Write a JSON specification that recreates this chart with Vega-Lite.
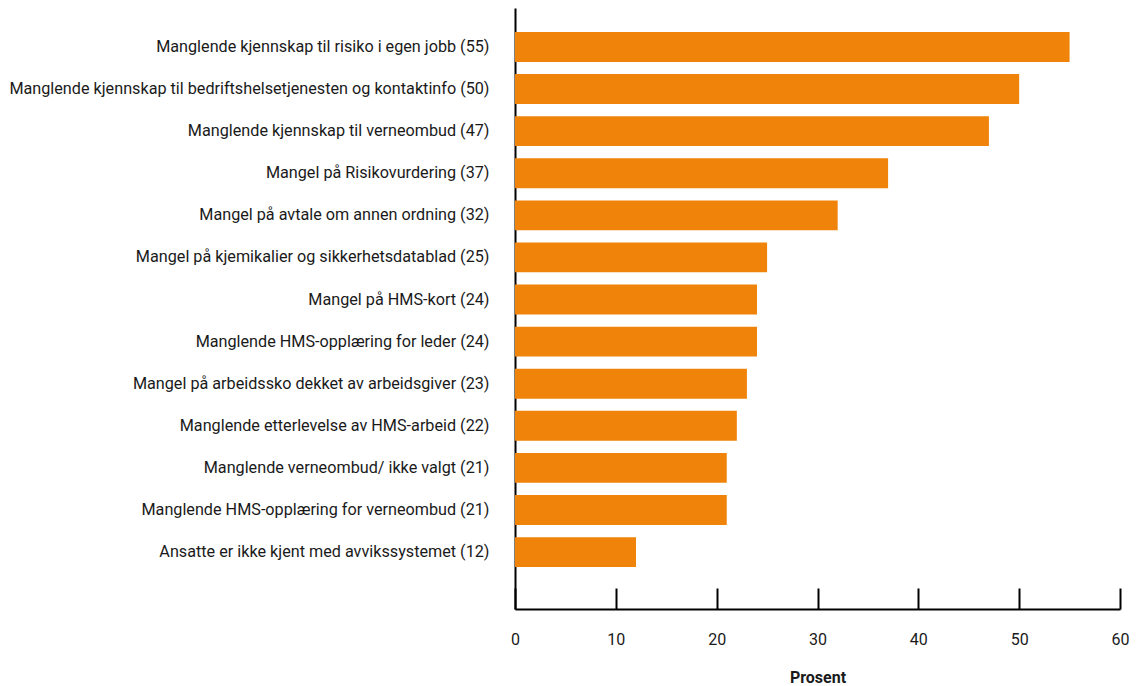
{
  "$schema": "https://vega.github.io/schema/vega-lite/v6.json",
  "width": 605,
  "height": 601,
  "autosize": {"type": "none"},
  "padding": {"left": 515, "top": 8, "right": 19, "bottom": 77},
  "background": "white",
  "config": {
    "view": {"stroke": null},
    "font": "Roboto",
    "axis": {"grid": false}
  },
  "data": {
    "values": [
      {"arsak": "Manglende kjennskap til risiko i egen jobb (55)", "prosent": 55},
      {"arsak": "Manglende kjennskap til bedriftshelsetjenesten og kontaktinfo (50)", "prosent": 50},
      {"arsak": "Manglende kjennskap til verneombud (47)", "prosent": 47},
      {"arsak": "Mangel på Risikovurdering (37)", "prosent": 37},
      {"arsak": "Mangel på avtale om annen ordning (32)", "prosent": 32},
      {"arsak": "Mangel på kjemikalier og sikkerhetsdatablad (25)", "prosent": 25},
      {"arsak": "Mangel på HMS-kort (24)", "prosent": 24},
      {"arsak": "Manglende HMS-opplæring for leder (24)", "prosent": 24},
      {"arsak": "Mangel på arbeidssko dekket av arbeidsgiver (23)", "prosent": 23},
      {"arsak": "Manglende etterlevelse av HMS-arbeid (22)", "prosent": 22},
      {"arsak": "Manglende verneombud/ ikke valgt (21)", "prosent": 21},
      {"arsak": "Manglende HMS-opplæring for verneombud (21)", "prosent": 21},
      {"arsak": "Ansatte er ikke kjent med avvikssystemet (12)", "prosent": 12}
    ]
  },
  "mark": {"type": "bar", "color": "#F0830A"},
  "encoding": {
    "y": {
      "field": "arsak",
      "type": "nominal",
      "sort": null,
      "scale": {"paddingInner": 0.29, "paddingOuter": 0.784, "align": 0.364},
      "axis": {
        "title": null,
        "ticks": false,
        "domainColor": "#000000",
        "domainWidth": 2,
        "labelFontSize": 16.2,
        "labelColor": "#1a1a1a",
        "labelPadding": 26,
        "labelLimit": 600
      }
    },
    "x": {
      "field": "prosent",
      "type": "quantitative",
      "scale": {"domain": [0, 60], "nice": false},
      "axis": {
        "title": "Prosent",
        "titleFontSize": 16,
        "titleFontWeight": "bold",
        "titleColor": "#1a1a1a",
        "titlePadding": 22,
        "values": [0, 10, 20, 30, 40, 50, 60],
        "domainColor": "#000000",
        "domainWidth": 2,
        "tickColor": "#000000",
        "tickWidth": 2,
        "tickSize": -21,
        "labelFontSize": 16,
        "labelColor": "#1a1a1a",
        "labelPadding": 43,
        "labelFlush": false
      }
    }
  }
}
